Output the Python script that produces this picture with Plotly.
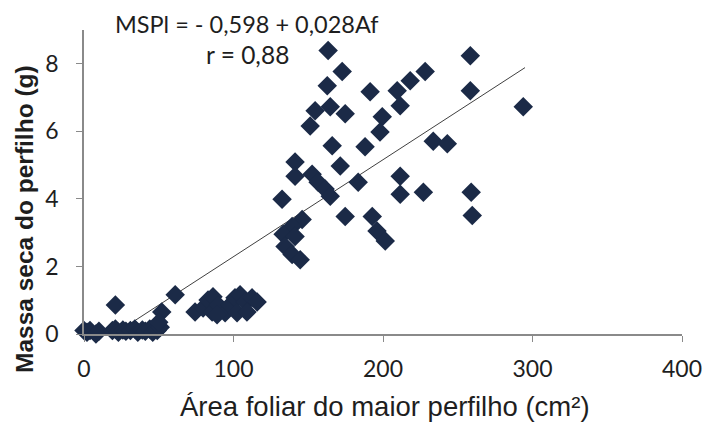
import plotly.graph_objects as go

# Data: leaf area of largest tiller (cm²) vs tiller dry mass (g)
area = [
    0, 2, 4, 6, 8, 10, 19, 21, 23, 26, 28, 31, 34, 36, 39, 41, 44, 46, 49, 51,
    21, 61, 52, 50,
    74.3, 79.7, 83, 86.3, 85.7, 89.7, 94.4, 97.7, 101, 104.4, 102.4, 107.8, 112.4, 115.8, 89, 109,
    141.2, 141.2, 152.6, 156.6, 161.3, 164.7,
    145.9, 139.2, 133.2, 141.2, 134.5, 139.2, 144.6,
    132.5, 171.4, 183.4, 166, 188, 174.7, 192.8, 196, 201.5,
    211.5, 211.5, 227, 259, 259.7,
    163.3, 172.7, 162.7, 258.4, 258.4, 293.8, 191.4, 209.5, 218.2, 228.2, 211.5,
    154.6, 164.7, 174.7, 151.3, 199.5, 198, 233.6, 243,
]
mass = [
    0.1, 0.05, 0.1, -0.05, 0.0, 0.08, 0.1, 0.15, 0.05, 0.12, 0.08, 0.1, 0.15, 0.05, 0.12, 0.08, 0.15, 0.05, 0.1, 0.2,
    0.86, 1.16, 0.65, 0.35,
    0.65, 0.77, 1.01, 1.10, 0.65, 0.86, 0.63, 0.86, 1.07, 1.16, 0.63, 0.95, 1.07, 0.95, 0.57, 0.65,
    5.09, 4.67, 4.73, 4.49, 4.29, 4.08,
    3.39, 3.18, 2.95, 2.89, 2.59, 2.35, 2.20,
    3.99, 4.97, 4.49, 5.57, 5.54, 3.48, 3.48, 3.05, 2.75,
    4.67, 4.14, 4.20, 4.20, 3.51,
    8.39, 7.77, 7.35, 8.24, 7.20, 6.73, 7.17, 7.20, 7.50, 7.77, 6.76,
    6.61, 6.73, 6.52, 6.16, 6.43, 5.98, 5.71, 5.63,
]

# Linear trend line (as drawn in the chart)
trend_intercept = -0.58
trend_slope = 0.0287
trend_x = [0, 295]
trend_y = [trend_intercept + trend_slope * v for v in trend_x]

x_ticks = [0, 100, 200, 300, 400]
y_ticks = [0, 2, 4, 6, 8]

equation_text = "MSPl = - 0,598 + 0,028Af"
r_text = "r = 0,88"
x_title = "Área foliar do maior perfilho (cm²)"
y_title = "Massa seca do perfilho (g)"

marker_color = "#1b2a47"
axis_color = "#8a8a8a"
text_color = "#1e1e1e"
label_font = "Lato, 'Open Sans', sans-serif"
title_font = "'Liberation Sans', Arial, sans-serif"

fig = go.Figure()
fig.add_trace(go.Scatter(
    x=trend_x, y=trend_y, mode="lines",
    line=dict(color="#404040", width=1),
    hoverinfo="skip", showlegend=False,
))
fig.add_trace(go.Scatter(
    x=area, y=mass, mode="markers",
    marker=dict(symbol="diamond", size=15, color=marker_color, line=dict(width=0)),
    cliponaxis=False, showlegend=False,
))

fig.update_layout(
    width=704, height=424,
    margin=dict(l=84, r=22, t=30, b=90),
    paper_bgcolor="white", plot_bgcolor="white",
    font=dict(family=label_font, color=text_color),
    xaxis=dict(
        range=[0, 400], tickvals=x_ticks, ticktext=[str(v) for v in x_ticks],
        showgrid=False, zeroline=False, showline=True, linecolor=axis_color, linewidth=1.5,
        ticks="outside", ticklen=6, tickcolor=axis_color, automargin=False,
        tickfont=dict(size=23, color=text_color), ticklabelstandoff=8,
    ),
    yaxis=dict(
        range=[0, 9], tickvals=y_ticks, ticktext=[str(v) for v in y_ticks],
        showgrid=False, zeroline=False, showline=True, linecolor=axis_color, linewidth=1.5,
        ticks="outside", ticklen=6, tickcolor=axis_color, automargin=False,
        tickfont=dict(size=23, color=text_color), ticklabelstandoff=13,
    ),
    annotations=[
        dict(text=equation_text, x=0.272, y=1.0197, xref="paper", yref="paper",
             showarrow=False, font=dict(size=23.5, color=text_color, family=label_font),
             xanchor="center", yanchor="middle"),
        dict(text=r_text, x=0.273, y=0.918, xref="paper", yref="paper",
             showarrow=False, font=dict(size=24.5, color=text_color, family=label_font),
             xanchor="center", yanchor="middle"),
        dict(text="<b>" + y_title + "</b>", x=-0.1005, y=0.378, xref="paper", yref="paper",
             textangle=-90, showarrow=False,
             font=dict(size=24.5, color=text_color, family=title_font),
             xanchor="center", yanchor="middle"),
        dict(text=x_title, x=0.504, y=-0.24, xref="paper", yref="paper",
             showarrow=False, font=dict(size=27.5, color=text_color, family=title_font),
             xanchor="center", yanchor="middle"),
    ],
)

fig.write_html("out.html")
